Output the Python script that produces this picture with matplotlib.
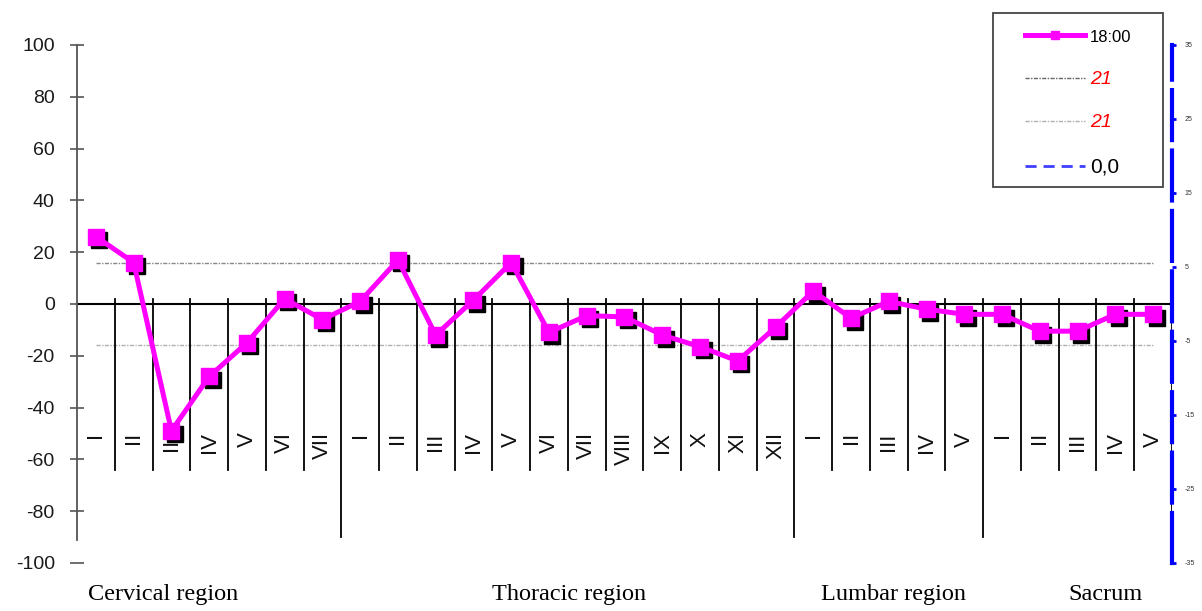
import matplotlib
matplotlib.use("Agg")
import matplotlib.pyplot as plt
import matplotlib.transforms as mtransforms
from matplotlib.lines import Line2D
from matplotlib.patches import Rectangle

plt.rcParams['axes.unicode_minus'] = False

# vertebra labels, four regions
cervical = ['I', 'II', 'III', 'IV', 'V', 'VI', 'VII']
thoracic = ['I', 'II', 'III', 'IV', 'V', 'VI', 'VII', 'VIII', 'IX', 'X', 'XI', 'XII']
lumbar = ['I', 'II', 'III', 'IV', 'V']
sacrum = ['I', 'II', 'III', 'IV', 'V']
vertebrae = cervical + thoracic + lumbar + sacrum

# series "18:00"
values = [26, 16, -49, -28, -15, 2, -6,
          1, 17, -12, 1.5, 16, -11, -4.5, -5, -12, -16.5, -22, -9,
          5, -5.5, 1, -2, -4,
          -4, -10.5, -10.5, -4, -4]

# reference lines ("21")
upper_ref = 16
lower_ref = -16

region_names = ['Cervical region', 'Thoracic region', 'Lumbar region', 'Sacrum']
region_label_x = [1.77, 12.53, 21.13, 26.73]

left_ticks = [100, 80, 60, 40, 20, 0, -20, -40, -60, -80, -100]
right_ticks = [35, 25, 15, 5, -5, -15, -25, -35]

sans = 'Liberation Sans'
serif = 'Liberation Serif'

fig = plt.figure(figsize=(12.02, 6.11), dpi=100)
ax = fig.add_axes([0.0641, 0.0786, 0.9109, 0.8478])
x = list(range(len(vertebrae)))
n = len(vertebrae)

ax.set_xlim(-0.5, n - 0.5)
ax.set_ylim(-100, 100)

# zero line
ax.axhline(0, color='black', lw=1.5, zorder=2)

# separators between vertebrae
bounds = [len(cervical) - 0.5,
          len(cervical) + len(thoracic) - 0.5,
          len(cervical) + len(thoracic) + len(lumbar) - 0.5]
for i in range(n - 1):
    xs = i + 0.5
    low = -90 if xs in bounds else -64
    ax.plot([xs, xs], [2, low], color='black', lw=1.3, zorder=2)
ax.plot([n - 0.5, n - 0.5], [0, -100], color='black', lw=1.3, zorder=2)

# roman numerals
for i, lab in enumerate(vertebrae):
    ax.text(i, -49.5, lab, rotation=90, ha='center', va='top',
            fontsize=16, family=sans, color='#111')

# reference lines
ax.plot([0, n - 1], [upper_ref, upper_ref], color='#888888', lw=1,
        ls=(0, (3, 1, 1, 1)), zorder=1)
ax.plot([0, n - 1], [lower_ref, lower_ref], color='#b0b0b0', lw=1,
        ls=(0, (3, 1, 1, 1)), zorder=1)

# series with shadowed markers
shadow = mtransforms.offset_copy(ax.transData, fig=fig, x=3.5, y=-3.5, units='dots')
ax.plot(x, values, ls='none', marker='s', ms=11.5, color='black',
        transform=shadow, zorder=3)
ax.plot(x, values, color='#ff00ff', lw=3.6, marker='s', ms=11.5,
        mec='#ff00ff', zorder=4)

# left axis
for s in ['top', 'bottom', 'right']:
    ax.spines[s].set_visible(False)
ax.spines['left'].set_color('#555555')
ax.spines['left'].set_linewidth(1.3)
ax.spines['left'].set_bounds(-91, 100)
ax.set_xticks([])
ax.set_yticks(left_ticks)
ax.tick_params(axis='y', direction='inout', length=10, width=1.2,
               color='#555555', labelsize=14, pad=11, labelcolor='#1a1a1a')
for t in ax.get_yticklabels():
    t.set_family(sans)

# right axis (blue dashed)
ax2 = ax.twinx()
ax2.set_ylim(-35, 35)
ax2.set_yticks(right_ticks)
for s in ['top', 'bottom', 'left']:
    ax2.spines[s].set_visible(False)
ax2.spines['right'].set_color('blue')
ax2.spines['right'].set_linewidth(3)
ax2.spines['right'].set_linestyle((0, (12, 2.5)))
ax2.tick_params(axis='y', length=3, width=2, color='blue', labelsize=5,
                pad=6, labelcolor='#333333')
for t in ax2.get_yticklabels():
    t.set_family(sans)

# region names
trans = mtransforms.blended_transform_factory(ax.transData, fig.transFigure)
for name, xp in zip(region_names, region_label_x):
    ax.text(xp, 0.018, name, transform=trans, ha='center', va='baseline',
            fontsize=17.5, family=serif, color='black')

# legend box drawn by hand, entries without frame
W, H = 1202, 611
fig.patches.append(Rectangle((993 / W, 1 - 187 / H), 170 / W, 174 / H,
                             transform=fig.transFigure, fill=False,
                             edgecolor='#444444', lw=1.3, zorder=5))
handles = [
    Line2D([], [], color='#ff00ff', lw=3.6, marker='s', ms=6),
    Line2D([], [], color='#666666', lw=1, ls=(0, (3, 1, 1, 1))),
    Line2D([], [], color='#b0b0b0', lw=1, ls=(0, (3, 1, 1, 1))),
    Line2D([], [], color='#4040ff', lw=2, ls=(0, (4, 2.5))),
]
leg = fig.legend(handles, ['18:00', '21', '21', '0,0'], loc='upper left',
                 bbox_to_anchor=(1025 / W, 1 - 29 / H), frameon=False,
                 handlelength=3.3, handletextpad=0.3,
                 labelspacing=1.45, borderpad=0, borderaxespad=0,
                 prop={'family': sans, 'size': 13})
texts = leg.get_texts()
texts[0].set_fontsize(12)
for t in texts[1:3]:
    t.set_color('red')
    t.set_style('italic')
    t.set_fontsize(14)
texts[3].set_fontsize(15)

fig.savefig('out.png', dpi=100)
